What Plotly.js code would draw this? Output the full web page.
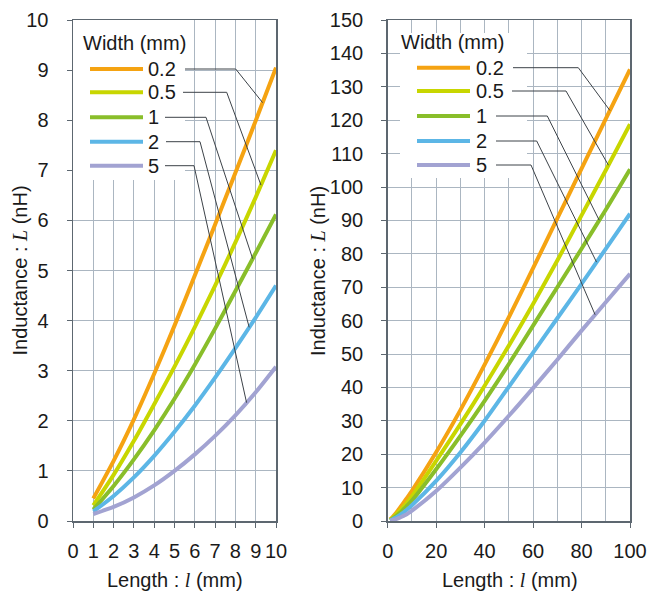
<!DOCTYPE html>
<html>
<head>
<meta charset="utf-8">
<script src="https://cdn.plot.ly/plotly-3.0.1.min.js"></script>
<style>html,body{margin:0;padding:0;background:#fff;}#chart{width:650px;height:591px;}</style>
</head>
<body>
<div id="chart"></div>
<script>
// ---------- data ----------
const widths = ['0.2', '0.5', '1', '2', '5'];
const colors = ['#F5A312', '#C8D600', '#89BE2A', '#5CB6E6', '#A2A3D2'];

// left chart: length 1..10 mm
const lenShort = [1, 2, 3, 4, 5, 6, 7, 8, 9, 10];
const lShort_w02 = [0.45, 1.20, 2.03, 2.94, 3.90, 4.90, 5.92, 6.95, 7.99, 9.05];
const lShort_w05 = [0.31, 0.92, 1.60, 2.33, 3.08, 3.87, 4.70, 5.56, 6.46, 7.40];
const lShort_w1  = [0.23, 0.70, 1.23, 1.81, 2.44, 3.12, 3.84, 4.59, 5.35, 6.12];
const lShort_w2  = [0.19, 0.50, 0.87, 1.30, 1.78, 2.30, 2.86, 3.45, 4.06, 4.70];
const lShort_w5  = [0.14, 0.28, 0.47, 0.71, 1.00, 1.33, 1.70, 2.11, 2.57, 3.08];

// right chart: length 1..100 mm
const lenLong = [1, 2, 3, 4, 5, 6, 7, 8, 9, 10, 20, 30, 40, 50, 60, 70, 80, 90, 100];
const lLong_w02 = [0.45, 1.20, 2.03, 2.94, 3.90, 4.90, 5.92, 6.95, 7.99, 9.05, 20.6, 33.2, 46.8, 61.0, 75.7, 90.6, 105.5, 120.4, 135.2];
const lLong_w05 = [0.31, 0.92, 1.60, 2.33, 3.08, 3.87, 4.70, 5.56, 6.46, 7.40, 18.0, 29.0, 40.5, 52.5, 65.0, 78.0, 91.5, 105.0, 118.8];
const lLong_w1  = [0.23, 0.70, 1.23, 1.81, 2.44, 3.12, 3.84, 4.59, 5.35, 6.12, 15.5, 25.5, 36.0, 47.0, 58.5, 70.0, 81.5, 93.2, 105.3];
const lLong_w2  = [0.19, 0.50, 0.87, 1.30, 1.78, 2.30, 2.86, 3.45, 4.06, 4.70, 12.0, 20.5, 30.0, 40.2, 50.4, 60.7, 71.0, 81.5, 92.0];
const lLong_w5  = [0.14, 0.28, 0.47, 0.71, 1.00, 1.33, 1.70, 2.11, 2.57, 3.08, 9.0, 16.0, 23.5, 31.5, 39.8, 48.3, 57.0, 65.5, 74.0];

const xTickShort = [0, 1, 2, 3, 4, 5, 6, 7, 8, 9, 10];
const yTickShort = [0, 1, 2, 3, 4, 5, 6, 7, 8, 9, 10];
const xTickLong = [0, 20, 40, 60, 80, 100];
const yTickLong = [0, 10, 20, 30, 40, 50, 60, 70, 80, 90, 100, 110, 120, 130, 140, 150];

const shortSeries = [lShort_w02, lShort_w05, lShort_w1, lShort_w2, lShort_w5];
const longSeries = [lLong_w02, lLong_w05, lLong_w1, lLong_w2, lLong_w5];

// x positions (data units) where the leader lines touch each curve
const leaderShortX = [9.34, 9.26, 8.85, 8.68, 8.55];
const leaderLongX = [91.7, 91.1, 87.3, 86.2, 85.6];

const xTitle = 'Length : <span style="font-family:Liberation Serif"><i>l</i></span> (mm)';
const yTitle = 'Inductance : <span style="font-family:Liberation Serif"><i>L</i></span> (nH)';
const legendTitle = 'Width (mm)';

// ---------- geometry ----------
const M = {l: 73, r: 20, t: 20, b: 70};
const W = 650, H = 591;
const plotW = W - M.l - M.r, plotH = H - M.t - M.b;
const domLeft = [0, 203 / plotW];
const domRight = [314.7 / plotW, 1];
const rangeShortX = [0, 10], rangeShortY = [0, 10];
const rangeLongX = [0, 100], rangeLongY = [0, 150];

function pxToData(px, py, dom, rx, ry) {
  const x0 = M.l + dom[0] * plotW, x1 = M.l + dom[1] * plotW;
  const y0 = M.t + plotH, y1 = M.t;
  return [rx[0] + (px - x0) / (x1 - x0) * (rx[1] - rx[0]),
          ry[0] + (py - y0) / (y1 - y0) * (ry[1] - ry[0])];
}
function pxToPaper(px, py) { return [(px - M.l) / plotW, (M.t + plotH - py) / plotH]; }
function interp(xs, ys, x) {
  for (let i = 0; i < xs.length - 1; i++) {
    if (x >= xs[i] && x <= xs[i + 1]) {
      const t = (x - xs[i]) / (xs[i + 1] - xs[i]);
      return ys[i] + t * (ys[i + 1] - ys[i]);
    }
  }
  return ys[ys.length - 1];
}

const FONT = 'Liberation Sans, Arial, sans-serif';
const FS = 20;
const TXT = '#1a1a1a';
const GRID = '#abb6c1';
const AXL = '#5d6770';

const traces = [];
widths.forEach((w, i) => {
  traces.push({x: lenShort, y: shortSeries[i], type: 'scatter', mode: 'lines', name: w,
    line: {color: colors[i], width: 4, shape: 'spline', smoothing: 0.8}, xaxis: 'x', yaxis: 'y', showlegend: false});
  traces.push({x: lenLong, y: longSeries[i], type: 'scatter', mode: 'lines', name: w,
    line: {color: colors[i], width: 4, shape: 'spline', smoothing: 0.8}, xaxis: 'x2', yaxis: 'y2', showlegend: false});
});

// ---------- legend / leader lines (layout) ----------
const shapes = [], annotations = [];
function buildLegend(cfg) {
  const {dom, rx, ry, xref, yref, box, title, rowsY, sample, labelX, leadStart, leadBend, leadX, xs, series} = cfg;
  const b0 = pxToData(box[0], box[1], dom, rx, ry), b1 = pxToData(box[2], box[3], dom, rx, ry);
  shapes.push({type: 'rect', xref, yref, x0: b0[0], y0: b0[1], x1: b1[0], y1: b1[1],
    fillcolor: '#ffffff', line: {width: 0}, layer: 'between'});
  const tp = pxToData(title[0], title[1], dom, rx, ry);
  annotations.push({xref, yref, x: tp[0], y: tp[1], text: legendTitle, showarrow: false,
    xanchor: 'left', yanchor: 'middle', font: {family: FONT, size: FS, color: TXT}});
  widths.forEach((w, i) => {
    const py = rowsY[i];
    const s0 = pxToData(sample[0], py, dom, rx, ry), s1 = pxToData(sample[1], py, dom, rx, ry);
    shapes.push({type: 'line', xref, yref, x0: s0[0], y0: s0[1], x1: s1[0], y1: s1[1],
      line: {color: colors[i], width: 4}, layer: 'above'});
    const lp = pxToData(labelX, py, dom, rx, ry);
    annotations.push({xref, yref, x: lp[0], y: lp[1], text: w, showarrow: false,
      xanchor: 'left', yanchor: 'middle', font: {family: FONT, size: FS, color: TXT}});
    const a = pxToData(leadStart[i], py, dom, rx, ry), bnd = pxToData(leadBend[i], py, dom, rx, ry);
    const ex = leadX[i], ey = interp(xs, series[i], ex);
    shapes.push({type: 'path', xref, yref, layer: 'above',
      path: 'M' + a[0] + ',' + a[1] + 'L' + bnd[0] + ',' + bnd[1] + 'L' + ex + ',' + ey,
      line: {color: '#3c4248', width: 1}});
  });
}
buildLegend({dom: domLeft, rx: rangeShortX, ry: rangeShortY, xref: 'x', yref: 'y',
  box: [73, 20, 185, 180], title: [81, 43], rowsY: [69, 92.3, 117.3, 141.7, 165.7],
  sample: [90, 143], labelX: 146, leadStart: [185, 183, 165, 166, 165],
  leadBend: [235.7, 226.7, 206, 200, 194], leadX: leaderShortX, xs: lenShort, series: shortSeries});
buildLegend({dom: domRight, rx: rangeLongX, ry: rangeLongY, xref: 'x2', yref: 'y2',
  box: [400, 33, 527, 178], title: [399, 42], rowsY: [67.7, 91, 116, 141, 165],
  sample: [417, 470], labelX: 474, leadStart: [513, 512, 496, 496, 496],
  leadBend: [578.3, 566, 547.3, 536.7, 531], leadX: leaderLongX, xs: lenLong, series: longSeries});

// axis titles as annotations (exact placement)
function addTitle(text, px, py, angle) {
  const p = pxToPaper(px, py);
  annotations.push({xref: 'paper', yref: 'paper', x: p[0], y: p[1], text, showarrow: false,
    xanchor: 'center', yanchor: 'middle', textangle: angle, font: {family: FONT, size: FS, color: TXT}});
}
addTitle(xTitle, 174.5, 580, 0);
addTitle(xTitle, 510, 580, 0);
addTitle(yTitle, 19.5, 271, -90);
addTitle(yTitle, 318, 271, -90);

function axisBase() {
  return {showgrid: true, gridcolor: GRID, gridwidth: 1, showline: true, linecolor: AXL, linewidth: 1.5,
    mirror: true, ticks: 'outside', ticklen: 5, tickcolor: AXL, tickwidth: 1, zeroline: false,
    tickfont: {family: FONT, size: FS, color: TXT}, fixedrange: true};
}

const layout = {
  width: W, height: H, margin: M, paper_bgcolor: '#ffffff', plot_bgcolor: '#ffffff',
  showlegend: false, font: {family: FONT, size: FS, color: TXT},
  xaxis: Object.assign(axisBase(), {domain: domLeft, range: rangeShortX, tickmode: 'array', tickvals: xTickShort,
    ticktext: xTickShort.map(String), anchor: 'y', ticklabelstandoff: 6}),
  yaxis: Object.assign(axisBase(), {domain: [0, 1], range: rangeShortY, tickmode: 'array', tickvals: yTickShort,
    ticktext: yTickShort.map(String), anchor: 'x', ticklabelstandoff: 14}),
  xaxis2: Object.assign(axisBase(), {domain: domRight, range: rangeLongX, tickmode: 'array', tickvals: xTickLong,
    ticktext: xTickLong.map(String), anchor: 'y2', ticklabelstandoff: 6,
    minor: {dtick: 10, showgrid: true, gridcolor: GRID, gridwidth: 1, ticks: ''}}),
  yaxis2: Object.assign(axisBase(), {domain: [0, 1], range: rangeLongY, tickmode: 'array', tickvals: yTickLong,
    ticktext: yTickLong.map(String), anchor: 'x2', ticklabelstandoff: 14}),
  shapes: shapes, annotations: annotations
};

Plotly.newPlot('chart', traces, layout, {staticPlot: true, displayModeBar: false});
</script>
</body>
</html>
